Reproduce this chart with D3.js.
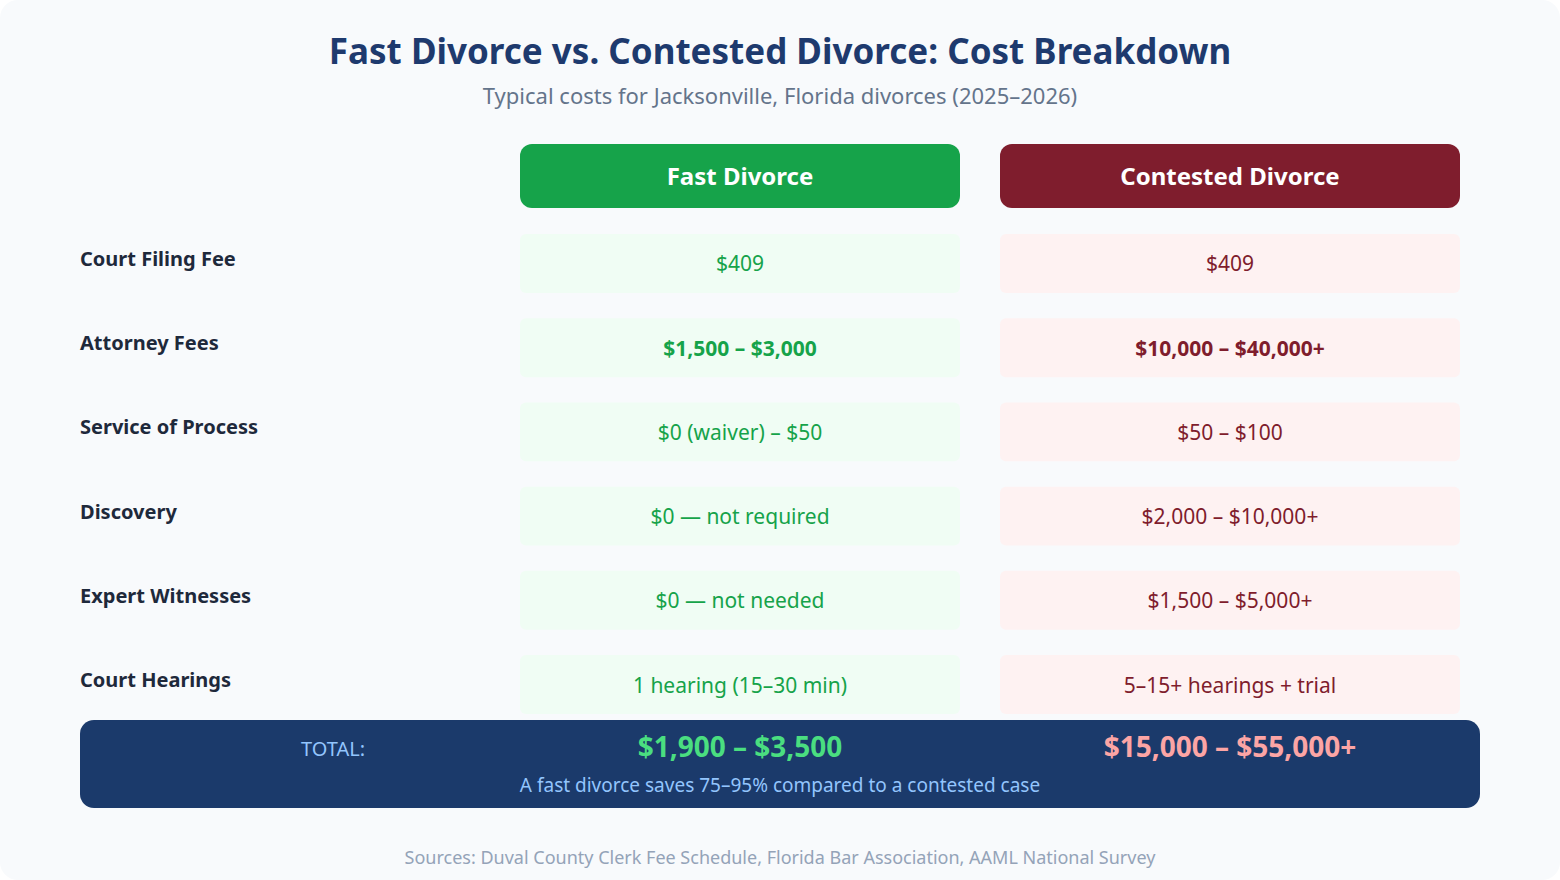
<!DOCTYPE html>
<html><head><meta charset="utf-8">
<script src="https://cdn.jsdelivr.net/npm/d3@7"></script>
<style>body{margin:0;background:#fff;font-family:"Noto Sans",sans-serif}</style>
</head><body><svg id="c" width="1560" height="880"></svg>
<script>
const categories=["Court Filing Fee","Attorney Fees","Service of Process","Discovery","Expert Witnesses","Court Hearings"];
const fastValues=["$409","$1,500 – $3,000","$0 (waiver) – $50","$0 — not required","$0 — not needed","1 hearing (15–30 min)"];
const contestedValues=["$409","$10,000 – $40,000+","$50 – $100","$2,000 – $10,000+","$1,500 – $5,000+","5–15+ hearings + trial"];
const boldRow=[false,true,false,false,false,false];
const columns=["Fast Divorce","Contested Divorce"];
const totals=["$1,900 – $3,500","$15,000 – $55,000+"];

const svg=d3.select("#c");
svg.append("rect").attr("width",1560).attr("height",880).attr("rx",18).attr("fill","#f8fafc");
svg.append("text").attr("x",780).attr("y",64).attr("text-anchor","middle").attr("font-size",35).attr("font-weight",700).attr("fill","#1e3a6e").text("Fast Divorce vs. Contested Divorce: Cost Breakdown");
svg.append("text").attr("x",780).attr("y",104).attr("text-anchor","middle").attr("font-size",22).attr("fill","#64748b").text("Typical costs for Jacksonville, Florida divorces (2025–2026)");

const colX=d3.scaleOrdinal().domain(columns).range([520,1000]);
const colW=d3.scaleOrdinal().domain(columns).range([440,460]);
const hdrFill=d3.scaleOrdinal().domain(columns).range(["#16a34a","#7f1d2d"]);
const cellFill=d3.scaleOrdinal().domain(columns).range(["#f0fdf4","#fef2f2"]);
const cellText=d3.scaleOrdinal().domain(columns).range(["#16a34a","#7f1d2d"]);
const y=d3.scaleBand().domain(categories).range([234,714]).paddingInner(24/80).paddingOuter(0);

const hg=svg.selectAll("g.h").data(columns).join("g");
hg.append("rect").attr("x",d=>colX(d)).attr("y",144).attr("width",d=>colW(d)).attr("height",64).attr("rx",12).attr("fill",d=>hdrFill(d));
hg.append("text").attr("x",d=>colX(d)+colW(d)/2).attr("y",185).attr("text-anchor","middle").attr("font-size",24).attr("font-weight",700).attr("fill","#fff").text(d=>d);

categories.forEach((c,i)=>{
  svg.append("text").attr("x",80).attr("y",y(c)+32).attr("font-size",20).attr("font-weight",700).attr("fill","#1e293b").text(c);
  [[columns[0],fastValues[i]],[columns[1],contestedValues[i]]].forEach(([col,v])=>{
    svg.append("rect").attr("x",colX(col)).attr("y",y(c)).attr("width",colW(col)).attr("height",y.bandwidth()).attr("rx",6).attr("fill",cellFill(col));
    svg.append("text").attr("x",colX(col)+colW(col)/2).attr("y",y(c)+y.bandwidth()/2+8).attr("text-anchor","middle").attr("font-size",21).attr("font-weight",boldRow[i]?700:400).attr("fill",cellText(col)).text(v);
  });
});

svg.append("rect").attr("x",80).attr("y",720).attr("width",1400).attr("height",88).attr("rx",14).attr("fill","#1b3a6b");
svg.append("text").attr("x",333).attr("y",756).attr("text-anchor","middle").attr("font-size",20).attr("fill","#93c5fd").text("TOTAL:");
svg.append("text").attr("x",740).attr("y",757).attr("text-anchor","middle").attr("font-size",28).attr("font-weight",700).attr("fill","#4ade80").text(totals[0]);
svg.append("text").attr("x",1230).attr("y",757).attr("text-anchor","middle").attr("font-size",28).attr("font-weight",700).attr("fill","#fca5a5").text(totals[1]);
svg.append("text").attr("x",780).attr("y",792).attr("text-anchor","middle").attr("font-size",19).attr("fill","#93c5fd").text("A fast divorce saves 75–95% compared to a contested case");
svg.append("text").attr("x",780).attr("y",864).attr("text-anchor","middle").attr("font-size",18).attr("fill","#94a3b8").text("Sources: Duval County Clerk Fee Schedule, Florida Bar Association, AAML National Survey");
</script></body></html>
